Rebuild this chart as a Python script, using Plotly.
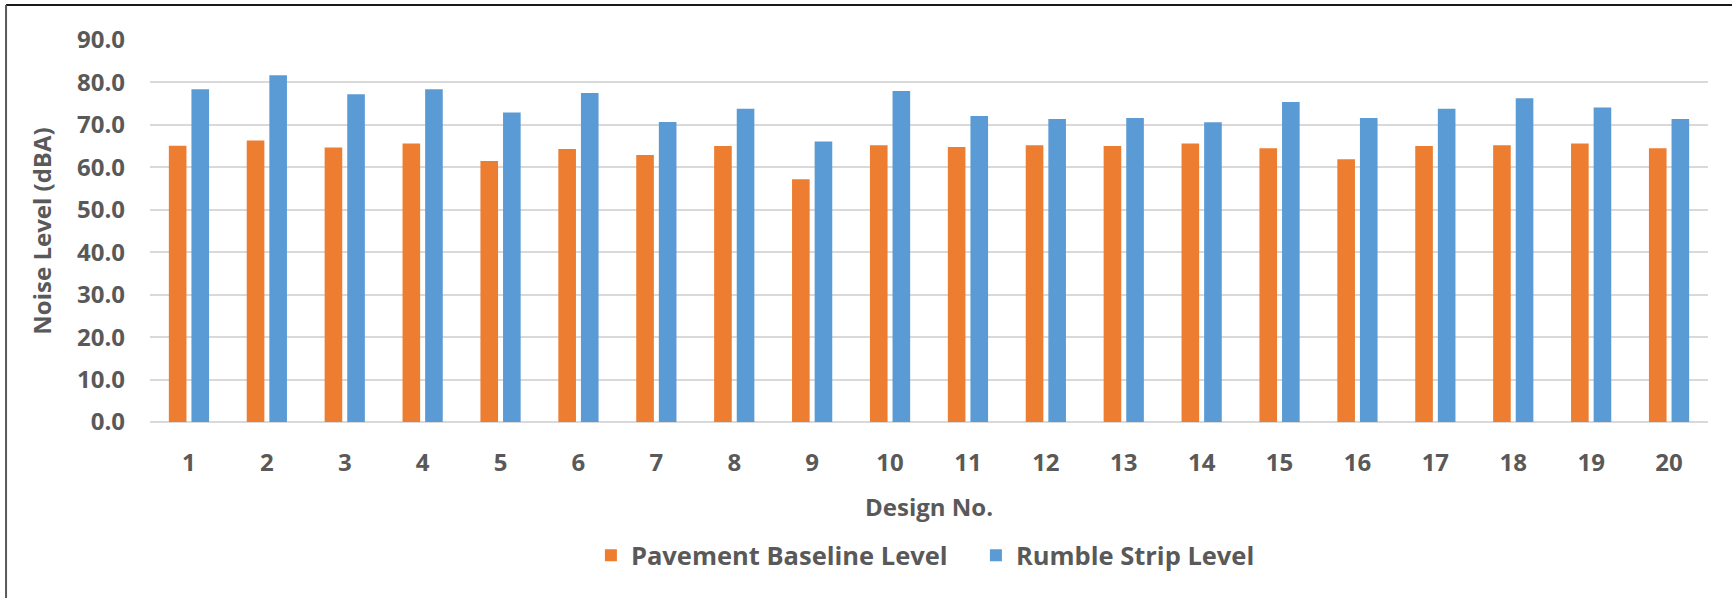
import plotly.graph_objects as go

# Noise levels per rumble strip design (dBA)
designs = [str(i) for i in range(1, 21)]
baseline_level = [65.1, 66.3, 64.7, 65.6, 61.5, 64.3, 62.9, 65.0, 57.2, 65.2,
                  64.8, 65.2, 65.0, 65.6, 64.5, 61.9, 65.0, 65.2, 65.6, 64.5]
rumble_level = [78.4, 81.7, 77.2, 78.4, 72.9, 77.5, 70.7, 73.8, 66.1, 78.0,
                72.1, 71.4, 71.6, 70.6, 75.4, 71.6, 73.8, 76.3, 74.1, 71.4]
y_ticks = [0, 10, 20, 30, 40, 50, 60, 70, 80, 90]

TEXT = "#595959"
FONT = "Open Sans"

fig = go.Figure()
fig.add_trace(go.Bar(x=designs, y=baseline_level, name="Pavement Baseline Level",
                     marker=dict(color="#ED7D31", line=dict(width=0))))
fig.add_trace(go.Bar(x=designs, y=rumble_level, name="Rumble Strip Level",
                     marker=dict(color="#5B9BD5", line=dict(width=0))))

fig.update_layout(
    width=1732, height=598,
    margin=dict(l=150, r=24, t=40, b=176, autoexpand=False),
    paper_bgcolor="white", plot_bgcolor="white",
    barmode="group", bargap=0.42, bargroupgap=0.22,
    font=dict(family=FONT, color=TEXT, size=24, weight="bold"),
    legend=dict(orientation="h", x=0.283, xanchor="left", y=-0.35, yanchor="middle",
                font=dict(family=FONT, size=25.5, color=TEXT, weight="bold"),
                itemwidth=30, entrywidth=340, traceorder="normal"),
    xaxis=dict(
        type="category", showgrid=False, showline=False, ticks="",
        ticklabelstandoff=24,
        tickfont=dict(family=FONT, size=24, color=TEXT, weight="bold"),
        title=dict(text="Design No.", standoff=22,
                   font=dict(family=FONT, size=24, color=TEXT, weight="bold")),
        automargin=False,
    ),
    yaxis=dict(
        range=[0, 90], tickvals=y_ticks, tickformat=".1f",
        showgrid=True, gridcolor="#d9d9d9", gridwidth=1.5,
        zeroline=True, zerolinecolor="#d9d9d9", zerolinewidth=2,
        showline=False, ticks="", ticklabelstandoff=24,
        tickfont=dict(family=FONT, size=24, color=TEXT, weight="bold"),
        title=dict(text="Noise Level (dBA)", standoff=18,
                   font=dict(family=FONT, size=24, color=TEXT, weight="bold")),
        automargin=False,
    ),
    shapes=[
        # chart frame: top and left edges
        dict(type="line", xref="paper", yref="paper", x0=-0.0924, x1=1.02,
             y0=1.0916, y1=1.0916, line=dict(color="#1a1a1a", width=2)),
        dict(type="line", xref="paper", yref="paper", x0=-0.0924, x1=-0.0924,
             y0=1.0916, y1=-0.48, line=dict(color="#595959", width=2)),
    ],
)

fig.write_html("out.html")
